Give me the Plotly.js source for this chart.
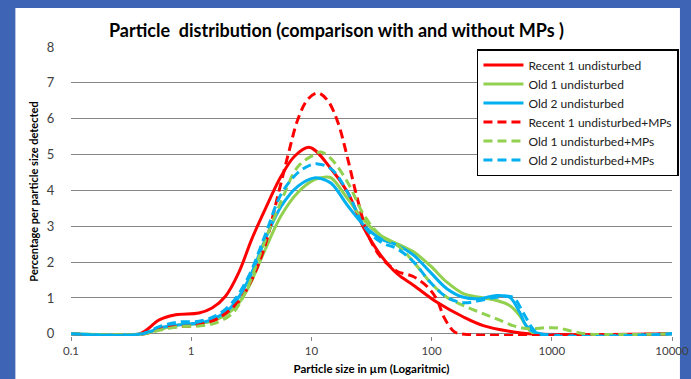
<!DOCTYPE html>
<html>
<head>
<meta charset="utf-8">
<script src="https://cdn.plot.ly/plotly-3.0.1.min.js"></script>
<style>html,body{margin:0;padding:0;}#chart{width:691px;height:379px;}</style>
</head>
<body>
<div id="chart"></div>
<script>
// Particle size (µm) and percentage values
const recent1_x = [0.1, 0.371, 0.542, 0.745, 1.16, 1.49, 1.93, 2.48, 3.18, 4.12, 5.61, 7.28, 9.68, 14.6, 20, 27.5, 37.8, 51.9, 71.1, 111, 184, 269, 446, 646, 10000];
const recent1_y = [0, 0, 0.39, 0.53, 0.58, 0.72, 1.05, 1.7, 2.63, 3.47, 4.4, 4.96, 5.2, 4.6, 3.95, 2.93, 2.19, 1.67, 1.35, 0.88, 0.47, 0.23, 0.07, 0, 0];

const old1_x = [0.1, 0.393, 0.542, 0.792, 1.16, 1.59, 2.17, 2.48, 3.0, 4.12, 5.61, 7.75, 10.6, 12.9, 14.6, 20, 27.5, 37.8, 51.9, 71.1, 97.5, 134, 184, 252, 347, 446, 540, 612, 695, 10000];
const old1_y = [0, 0, 0.12, 0.25, 0.28, 0.38, 0.65, 0.85, 1.3, 2.35, 3.3, 3.95, 4.3, 4.37, 4.35, 3.77, 3.16, 2.74, 2.51, 2.28, 1.9, 1.44, 1.12, 1.02, 0.93, 0.79, 0.51, 0.23, 0.03, 0];

const old2_x = [0.1, 0.393, 0.542, 0.792, 1.16, 1.59, 2.17, 3.0, 4.12, 5.61, 7.75, 10.6, 12.0, 14.6, 20, 27.5, 37.8, 51.9, 71.1, 97.5, 134, 184, 252, 347, 446, 540, 612, 741, 10000];
const old2_y = [0, 0, 0.16, 0.25, 0.3, 0.44, 0.76, 1.51, 2.63, 3.56, 4.12, 4.35, 4.33, 4.2, 3.58, 3.02, 2.65, 2.47, 2.19, 1.72, 1.26, 1.02, 0.98, 1.07, 1.02, 0.6, 0.23, 0.03, 0];

const recent1mp_x = [0.1, 0.408, 0.542, 0.792, 1.16, 1.69, 2.48, 3.18, 4.06, 5.3, 6.41, 7.75, 9.37, 11.3, 13.7, 16.6, 20, 24.2, 29.3, 35.5, 42.9, 51.9, 70.3, 91.7, 111, 126, 153, 178, 10000];
const recent1mp_y = [0, 0, 0.15, 0.2, 0.25, 0.44, 0.9, 1.5, 2.4, 3.9, 5.0, 6.0, 6.55, 6.72, 6.5, 5.9, 4.9, 3.75, 2.8, 2.26, 1.95, 1.74, 1.6, 1.32, 0.95, 0.48, 0.07, 0, 0];

const old1mp_x = [0.1, 0.408, 0.542, 0.792, 1.16, 1.59, 2.17, 2.48, 3.0, 4.12, 5.61, 7.75, 10.6, 12.0, 14.6, 20, 27.5, 37.8, 51.9, 71.1, 97.5, 134, 184, 252, 347, 475, 649, 895, 1146, 1486, 1914, 10000];
const old1mp_y = [0, 0, 0.1, 0.2, 0.22, 0.3, 0.55, 0.8, 1.35, 2.6, 3.7, 4.67, 5.0, 5.07, 4.88, 4.23, 3.3, 2.74, 2.47, 2.0, 1.44, 1.02, 0.79, 0.6, 0.42, 0.23, 0.14, 0.17, 0.16, 0.07, 0, 0];

const old2mp_x = [0.1, 0.393, 0.542, 0.792, 1.16, 1.59, 2.17, 3.0, 4.12, 5.61, 7.75, 9.68, 11.3, 14.6, 20, 27.5, 37.8, 51.9, 71.1, 97.5, 134, 184, 252, 347, 475, 575, 695, 784, 10000];
const old2mp_y = [0, 0, 0.2, 0.33, 0.35, 0.5, 0.85, 1.6, 2.75, 3.9, 4.5, 4.7, 4.74, 4.6, 3.95, 3.0, 2.56, 2.37, 2.0, 1.44, 1.02, 0.87, 0.93, 1.02, 1.02, 0.6, 0.14, 0, 0];

const seriesNames = ["Recent 1 undisturbed", "Old 1 undisturbed", "Old 2 undisturbed",
  "Recent 1 undisturbed+MPs", "Old 1 undisturbed+MPs", "Old 2 undisturbed+MPs"];
const xTickVals = [0.1, 1, 10, 100, 1000, 10000];
const xTickText = ["0.1", "1", "10", "100", "1000", "10000"];

const RED = "#FF0000", GREEN = "#92D050", BLUE = "#00B0F0";
function tr(x, y, name, color, dashed) {
  return {x: x, y: y, name: name, type: "scatter", mode: "lines",
    line: {color: color, width: 3, shape: "spline", smoothing: 1, dash: dashed ? "9px,5px" : "solid"},
    hoverinfo: "skip"};
}
const data = [
  tr(recent1_x, recent1_y, seriesNames[0], RED, false),
  tr(old1_x, old1_y, seriesNames[1], GREEN, false),
  tr(old2_x, old2_y, seriesNames[2], BLUE, false),
  tr(recent1mp_x, recent1mp_y, seriesNames[3], RED, true),
  tr(old1mp_x, old1mp_y, seriesNames[4], GREEN, true),
  tr(old2mp_x, old2mp_y, seriesNames[5], BLUE, true)
];

const W = 691, H = 379, ML = 71, MR = 15, MT = 47, MB = 43;
const pw = W - ML - MR, ph = H - MT - MB;
const px2x = p => (p - ML) / pw, py2y = p => 1 - (p - MT) / ph;

const layout = {
  width: W, height: H,
  margin: {l: ML, r: MR, t: MT, b: MB, pad: 0},
  paper_bgcolor: "#3d64b5",
  plot_bgcolor: "#ffffff",
  font: {family: "Lato, 'Open Sans', sans-serif", color: "#404040", size: 12},
  title: {text: "<b>Particle  distribution (comparison with and without MPs )</b>",
    font: {family: "Lato, sans-serif", size: 18, color: "#000000"},
    x: 0.487, xanchor: "center", y: 0.918, yanchor: "middle"},
  xaxis: {type: "log", range: [-1.00001, 4.00001], tickvals: xTickVals, ticktext: xTickText,
    ticks: "outside", ticklen: 4, tickcolor: "#868686", tickwidth: 1,
    showline: false, showgrid: false, zeroline: false, ticklabeloverflow: "allow",
    tickfont: {size: 11.5, color: "#404040"},
    title: {text: "<b>Particle size in µm (Logaritmic)</b>", font: {size: 11.5, color: "#000000"}, standoff: 9}},
  yaxis: {range: [-0.06, 8], tickvals: [0, 1, 2, 3, 4, 5, 6, 7, 8], showgrid: true, gridcolor: "#868686", gridwidth: 1,
    showline: false, zeroline: true, zerolinecolor: "#868686", zerolinewidth: 1,
    ticks: "outside", ticklen: 13, tickcolor: "rgba(0,0,0,0)",
    tickfont: {size: 13, color: "#404040"},
    title: {text: "<b>Percentage per particle size detected</b>", font: {size: 11, color: "#000000"}, standoff: 6}},
  legend: {x: px2x(683), y: py2y(49), xanchor: "right", yanchor: "top",
    bgcolor: "#ffffff", bordercolor: "#000000", borderwidth: 1.5,
    font: {size: 12, color: "#202020"}, tracegroupgap: 0, itemwidth: 40},
  shapes: [{type: "rect", xref: "paper", yref: "paper", layer: "below",
    x0: px2x(15), x1: px2x(684), y0: py2y(379), y1: py2y(8),
    fillcolor: "#ffffff", line: {width: 0}}],
  showlegend: true
};
Plotly.newPlot("chart", data, layout, {displayModeBar: false, staticPlot: true});
</script>
</body>
</html>
